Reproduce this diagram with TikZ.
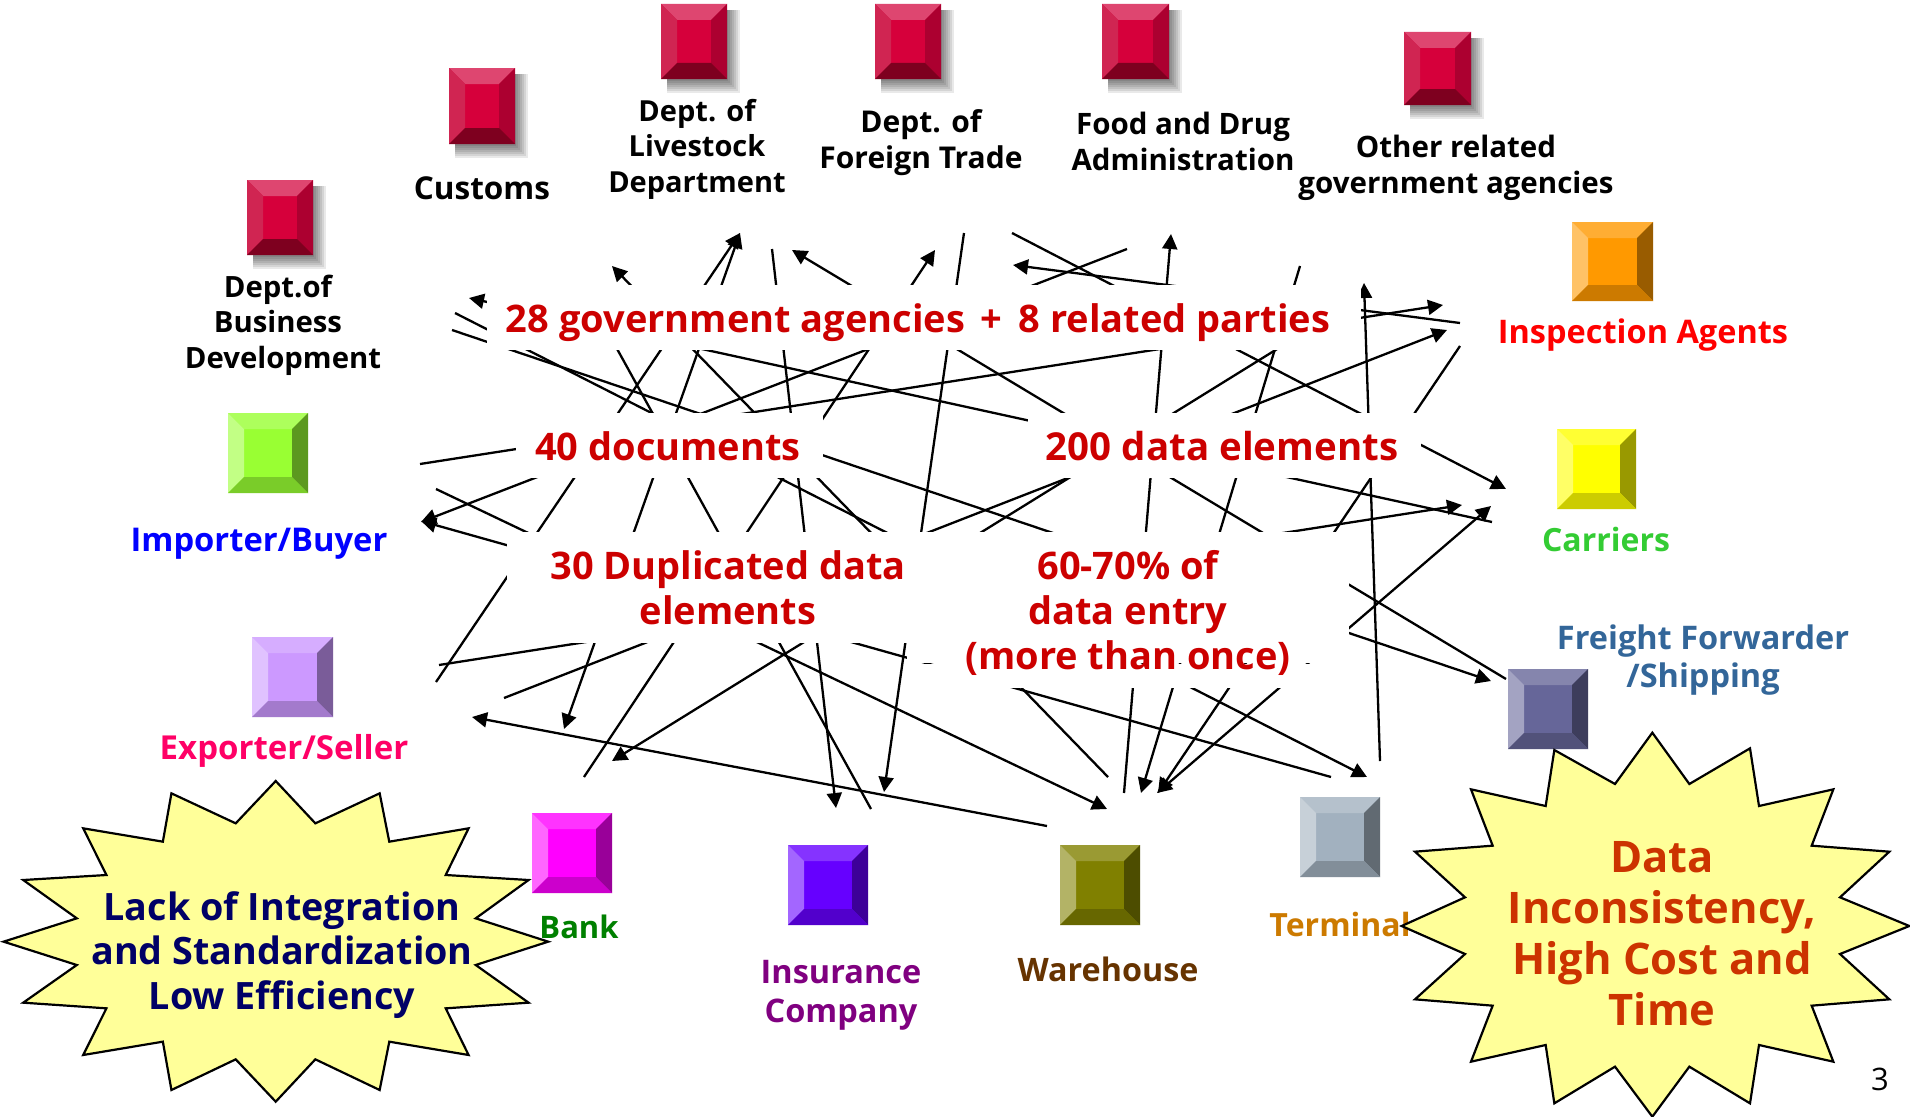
\documentclass[tikz,border=0pt]{standalone}
\usepackage{fontspec}
\setmainfont{Open Sans}
\usetikzlibrary{arrows.meta}
\definecolor{starfill}{HTML}{FFFF99}
\definecolor{bigred}{HTML}{CC0000}
\tikzset{
  wire/.style={line width=2.3pt,black,line cap=butt,>={Triangle[length=15pt,width=15pt]}},
  star/.style={draw=black,line width=2.2pt,fill=starfill,line join=miter,miter limit=10},
  mask/.style={fill=white}
}
\newcommand\wire[4][]{\coordinate (#2s) at (#3);\coordinate (#2e) at (#4);\draw[wire,#1] (#2s) -- (#2e);}
% name, x centre, first baseline, size, pitch, colour, text
\newcommand\lab[7]{\node[anchor=base,inner sep=0pt,text=#6,font=\fontsize{#4}{#5}\selectfont\bfseries] (#1) at (#2,#3) {\begin{tabular}[t]{@{}c@{}}#7\end{tabular}};}
% name, x0,y0,x1,y1, face colour, bevel
\newcommand\bev[7]{%
  \coordinate (#1) at ({(#2+#4)/2},{(#3+#5)/2});
  \fill[#6] (#2,#3) rectangle (#4,#5);
  \fill[#6!80!white] (#2,#3) -- (#4,#3) -- (#4-#7,#3+#7) -- (#2+#7,#3+#7) -- cycle;
  \fill[#6!60!white] (#2,#3) -- (#2+#7,#3+#7) -- (#2+#7,#5-#7) -- (#2,#5) -- cycle;
  \fill[#6!60!black] (#4,#3) -- (#4-#7,#3+#7) -- (#4-#7,#5-#7) -- (#4,#5) -- cycle;
  \fill[#6!80!black] (#2,#5) -- (#2+#7,#5-#7) -- (#4-#7,#5-#7) -- (#4,#5) -- cycle;
}
\definecolor{redface}{HTML}{D6003B}
\definecolor{redtop}{HTML}{DE4670}
\definecolor{redleft}{HTML}{D02552}
\definecolor{redright}{HTML}{AC0030}
\definecolor{redbottom}{HTML}{7E001F}
\newcommand\redbox[5]{%
  \foreach \s in {0,2,4,6,8,10,12}{\fill[black,opacity=0.085] (#2+6,#3+6) rectangle (#4+1+\s,#5+2+\s);}
  \coordinate (#1) at ({(#2+#4)/2},{(#3+#5)/2});
  \fill[redface] (#2,#3) rectangle (#4,#5);
  \fill[redtop] (#2,#3) -- (#4,#3) -- (#4-16,#3+16) -- (#2+16,#3+16) -- cycle;
  \fill[redleft] (#2,#3) -- (#2+16,#3+16) -- (#2+16,#5-16) -- (#2,#5) -- cycle;
  \fill[redright] (#4,#3) -- (#4-16,#3+16) -- (#4-16,#5-16) -- (#4,#5) -- cycle;
  \fill[redbottom] (#2,#5) -- (#2+16,#5-16) -- (#4-16,#5-16) -- (#4,#5) -- cycle;
}
\definecolor{fOrange}{HTML}{FF9900}
\definecolor{fYellow}{HTML}{FFFF00}
\definecolor{fGreen}{HTML}{99FF33}
\definecolor{fExp}{HTML}{CC99FF}
\definecolor{fFreight}{HTML}{666699}
\definecolor{fBank}{HTML}{FF00FF}
\definecolor{fIns}{HTML}{6600FF}
\definecolor{fWare}{HTML}{808000}
\definecolor{fTerm}{HTML}{A2B1BF}
\definecolor{cInsp}{HTML}{FF0000}
\definecolor{cCarr}{HTML}{33CC33}
\definecolor{cFre}{HTML}{336699}
\definecolor{cImp}{HTML}{0000FF}
\definecolor{cExp}{HTML}{FF0066}
\definecolor{cBank}{HTML}{008000}
\definecolor{cIns}{HTML}{800080}
\definecolor{cWare}{HTML}{663300}
\definecolor{cTerm}{HTML}{CC7A00}
\definecolor{cNavy}{HTML}{000066}
\definecolor{cRust}{HTML}{CC3300}
\begin{document}
\begin{tikzpicture}[x=1pt,y=-1pt]
\useasboundingbox (0,0) rectangle (1910,1116);
\fill[white] (0,0) rectangle (1910,1116);
% connectors
\wire[<-]{l1}{469,298}{1492,522}
\wire[->]{l2}{455,313}{1367,777}
\wire[->]{l3}{452,330}{1491,681}
\wire[<-]{l4}{612,266}{1108,777}
\wire[<->]{l5}{740,233}{564,729}
\wire[<-]{l6}{740,233}{436,682}
\wire[->]{l7}{772,249}{836,808}
\wire[<-]{l8}{792,250}{1506,679}
\wire[<-]{l9}{935,250}{584,777}
\wire[->]{l10}{964,233}{884,792}
\wire[->]{l11}{1012,233}{1506,489}
\wire[->]{l12}{1127,249}{421,522}
\wire[<-]{l13}{1013,265}{1460,323}
\wire[<-]{l14}{1171,234}{1124,793}
\wire[->]{l15}{1300,266}{1141,793}
\wire[<-]{l16}{1443,305}{420,464}
\wire[<-]{l17}{1447,330}{504,698}
\wire[->]{l18}{1460,346}{1158,793}
\wire[<-]{l19}{1364,283}{1380,761}
\wire[->]{l20}{1290,341}{612,761}
\wire{l21}{600,318}{871,809}
\wire[->]{l22}{436,489}{1107,809}
\wire[<-]{l23}{421,521}{1331,777}
\wire[->]{l24}{439,665}{1462,505}
\wire[<-]{l25}{472,717}{1047,826}
\wire[<->]{l26}{1491,506}{1157,793}
% white panels behind the central texts
\fill[mask] (487,285) rectangle (1361,350);
\fill[mask] (516,413) rectangle (823,478);
\fill[mask] (1028,413) rectangle (1421,478);
\fill[mask] (507,532) rectangle (907,643);
\fill[mask] (907,532) rectangle (1349,662.7);
\fill[mask] (907,663.5) rectangle (1349,688);
% central texts
\lab{agencies}{918}{332}{38}{45}{bigred}{28 government agencies\hspace{6pt} +\hspace{6pt} 8 related parties}
\lab{docs}{668}{460}{38}{45}{bigred}{40 documents}
\lab{elements}{1222}{460}{38.5}{45}{bigred}{200 data elements}
\lab{dups}{728}{579}{38}{45}{bigred}{30 Duplicated data\\elements}
\lab{entry}{1128}{579}{38}{45}{bigred}{60-70\% of\\data entry\\(more than once)}
% government agencies
\redbox{bBus}{247}{180}{313}{255}
\redbox{bCus}{449}{68}{515}{144}
\redbox{bLiv}{661}{4}{727}{79}
\redbox{bFor}{875}{4}{941}{79}
\redbox{bFood}{1102}{4}{1169}{79}
\redbox{bOth}{1404}{32}{1471}{105}
\lab{tBus}{278}{297}{29.3}{35.5}{black}{Dept.of\hspace{16pt}\\Business\\\hspace{10pt}Development}
\lab{tCus}{482}{199}{31.5}{36}{black}{Customs}
\lab{tLiv}{697}{121}{29}{35.5}{black}{Dept. of\\Livestock\\Department}
\lab{tFor}{921}{132}{30}{36}{black}{Dept. of\\Foreign Trade}
\lab{tFood}{1183}{134}{29.5}{36.5}{black}{Food and Drug\\Administration}
\lab{tOth}{1456}{157}{29.5}{36}{black}{Other related\\government agencies}
% related parties
\bev{bInsp}{1572}{222}{1653}{301}{fOrange}{16}
\bev{bCarr}{1557}{429}{1636}{509}{fYellow}{16}
\bev{bImp}{228}{413}{308}{493}{fGreen}{16}
\bev{bExp}{252}{637}{333}{717}{fExp}{16}
\bev{bFre}{1508}{669}{1588}{749}{fFreight}{16}
\bev{bBank}{532}{813}{612}{893}{fBank}{16}
\bev{bIns}{788}{845}{868}{925}{fIns}{16}
\bev{bWare}{1060}{845}{1140}{925}{fWare}{16}
\bev{bTerm}{1300}{797}{1380}{877}{fTerm}{16}
\lab{tInsp}{1643}{343}{32.5}{36}{cInsp}{Inspection Agents}
\lab{tCarr}{1606}{551}{32}{36}{cCarr}{Carriers}
\lab{tFre}{1703}{649}{32.5}{38.5}{cFre}{Freight Forwarder\\/Shipping}
\lab{tImp}{259}{551}{32.7}{36}{cImp}{Importer/Buyer}
\lab{tExp}{284}{759}{33}{36}{cExp}{Exporter/Seller}
\lab{tBank}{579}{938}{31}{36}{cBank}{Bank}
\lab{tIns}{841}{983}{32.5}{39}{cIns}{Insurance\\Company}
\lab{tWare}{1108}{981}{32.3}{36}{cWare}{Warehouse}
\lab{tTerm}{1340}{936}{32}{36}{cTerm}{Terminal}
% stars
\begin{scope}[shift={(0,770)},xscale=0.35714,yscale=0.33333]
\draw[star] (772,33)--(883,160)--(1063,70)--(1090,215)--(1312,175)--(1248,315)--(1480,330)--(1332,445)--(1535,515)--(1332,585)--(1480,698)--(1248,715)--(1312,855)--(1090,815)--(1063,960)--(883,868)--(772,995)--(660,868)--(480,960)--(456,815)--(233,855)--(298,715)--(65,698)--(215,585)--(10,515)--(215,445)--(65,330)--(298,315)--(233,175)--(456,215)--(480,70)--(660,160)--cycle;
\end{scope}
\begin{scope}[shift={(1400,720)},xscale=0.33333,yscale=0.33333]
\draw[star] (757,38)--(868,192)--(1050,85)--(1077,258)--(1300,208)--(1235,377)--(1468,395)--(1320,532)--(1528,618)--(1320,702)--(1468,838)--(1235,857)--(1300,1025)--(1077,975)--(1050,1150)--(868,1040)--(757,1190)--(645,1040)--(463,1150)--(437,975)--(213,1025)--(278,857)--(45,838)--(195,702)--(5,618)--(195,532)--(45,395)--(278,377)--(213,208)--(437,258)--(463,90)--(645,192)--cycle;
\end{scope}
\lab{tLeft}{282}{920}{37.7}{44.5}{cNavy}{Lack of Integration\\and Standardization\\Low Efficiency}
\lab{tRight}{1662}{872}{43.5}{51}{cRust}{Data\\Inconsistency,\\High Cost and\\Time}
\node[anchor=base,inner sep=0pt,font=\fontsize{31}{36}\selectfont] (pageno) at (1880,1090) {3};
\end{tikzpicture}
\end{document}
